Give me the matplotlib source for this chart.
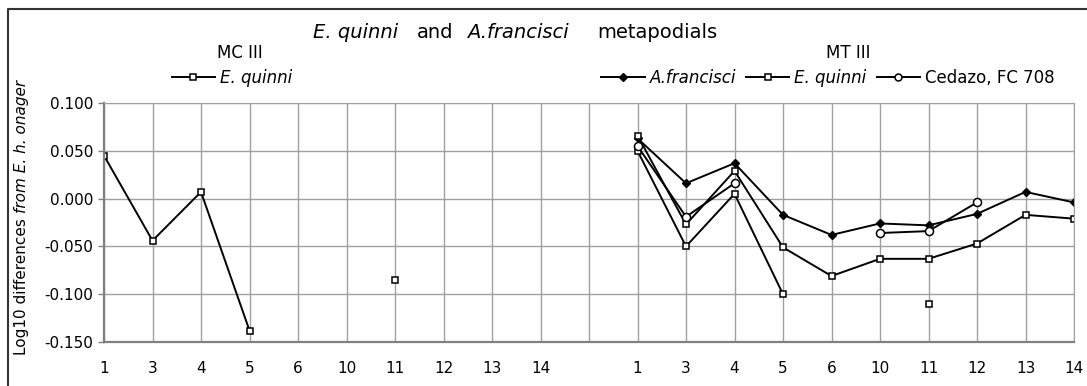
import numpy as np
import matplotlib
matplotlib.use('Agg')
import matplotlib.pyplot as plt
from matplotlib.lines import Line2D

nan = np.nan

# categorie (stesse per MC III e MT III)
categorie = ['1', '3', '4', '5', '6', '10', '11', '12', '13', '14']

# MC III - E. quinni
mc_quinni = [0.045, -0.044, 0.007, -0.138, nan, nan, nan, nan, nan, nan]
mc_quinni_isolato = [nan, nan, nan, nan, nan, nan, -0.085, nan, nan, nan]

# MT III
mt_francisci = [0.063, 0.016, 0.037, -0.017, -0.038, -0.026, -0.028, -0.016, 0.007, -0.004]
mt_quinni_a = [0.066, -0.027, 0.029, -0.051, -0.081, -0.063, -0.063, -0.047, -0.017, -0.021]
mt_quinni_b = [0.050, -0.050, 0.005, -0.100, nan, nan, nan, nan, nan, nan]
mt_quinni_isolato = [nan, nan, nan, nan, nan, nan, -0.110, nan, nan, nan]
mt_cedazo = [0.055, -0.019, 0.016, nan, nan, -0.036, -0.034, -0.004, nan, nan]

plt.rcParams['font.family'] = 'DejaVu Sans'

W, H = 1087, 386
fig = plt.figure(figsize=(W / 100, H / 100), dpi=100)
ax = fig.add_axes([104 / W, 1 - 342 / H, (1074 - 104) / W, (342 - 103) / H])

n = len(categorie)
x_mc = np.arange(n)
x_mt = np.arange(n) + n + 1

stile = dict(color='black', lw=1.4)
q = dict(marker='s', ms=5, mfc='white', mec='black', mew=1.1)
d = dict(marker='D', ms=4.5, mfc='black', mec='black')
c = dict(marker='o', ms=5.8, mfc='white', mec='black', mew=1.1)

ax.plot(x_mc, mc_quinni, **stile, **q)
ax.plot(x_mc, mc_quinni_isolato, ls='none', **q)

ax.plot(x_mt, mt_francisci, **stile, **d)
ax.plot(x_mt, mt_quinni_a, **stile, **q)
ax.plot(x_mt, mt_quinni_b, **stile, **q)
ax.plot(x_mt, mt_quinni_isolato, ls='none', **q)
ax.plot(x_mt, mt_cedazo, **stile, **c)

ax.set_xlim(0, 2 * n)
ax.set_ylim(-0.15, 0.1)
ax.set_xticks(np.arange(2 * n + 1))
ax.set_xticklabels(categorie + [''] + categorie)
yt = np.arange(-0.15, 0.1001, 0.05)
ax.set_yticks(yt)
ax.set_yticklabels([f'{v:.3f}' for v in yt])
ax.tick_params(axis='x', length=0, pad=14, labelsize=11)
ax.tick_params(axis='y', length=4, width=1, color='#808080', pad=4, labelsize=11)
ax.grid(True, color='#a0a0a0', lw=1)
ax.set_axisbelow(True)
for lato in ['left', 'bottom']:
    ax.spines[lato].set_color('#808080')
    ax.spines[lato].set_linewidth(1.6)
ax.spines['right'].set_color('#a0a0a0')
ax.spines['top'].set_color('#a0a0a0')

# etichetta asse y (parte normale + parte in corsivo)
r = fig.canvas.get_renderer()
t1 = fig.text(22 / W, 1 - 355 / H, 'Log10 differences ', rotation=90, fontsize=11,
              ha='center', va='bottom')
bb = t1.get_window_extent(r)
fig.text(22 / W, bb.y1 / H, 'from E. h. onager', rotation=90, fontsize=11,
         style='italic', ha='center', va='bottom')

# titolo principale
ytit = 1 - 33 / H
fig.text(313 / W, ytit, 'E. quinni', style='italic', fontsize=14, va='center')
fig.text(417 / W, ytit, 'and', fontsize=14, va='center')
fig.text(467 / W, ytit, 'A.francisci', style='italic', fontsize=14, va='center')
fig.text(597 / W, ytit, 'metapodials', fontsize=14, va='center')

# sottotitoli
fig.text(240 / W, 1 - 53 / H, 'MC III', fontsize=12, ha='center', va='center')
fig.text(848 / W, 1 - 53 / H, 'MT III', fontsize=12, ha='center', va='center')

# legende
h_q = Line2D([], [], **stile, **q)
h_f = Line2D([], [], **stile, **d)
h_c = Line2D([], [], **stile, **dict(c, ms=5))
leg1 = fig.legend([h_q], ['E. quinni'], loc='center', bbox_to_anchor=(232 / W, 1 - 78 / H),
                  frameon=False, fontsize=12, handlelength=2.6, handletextpad=0.3, borderpad=0)
leg1.get_texts()[0].set_style('italic')
leg2 = fig.legend([h_f, h_q, h_c], ['A.francisci', 'E. quinni', 'Cedazo, FC 708'],
                  loc='center', bbox_to_anchor=(828 / W, 1 - 78 / H), ncol=3,
                  frameon=False, fontsize=12, handlelength=2.6, handletextpad=0.3,
                  columnspacing=0.6, borderpad=0)
leg2.get_texts()[0].set_style('italic')
leg2.get_texts()[1].set_style('italic')

# cornice esterna
fig.add_artist(Line2D([8 / W, 8 / W, 1.0], [0, 1 - 9 / H, 1 - 9 / H],
                      transform=fig.transFigure, color='#333333', lw=1.5))

fig.savefig('out.png', dpi=100)
